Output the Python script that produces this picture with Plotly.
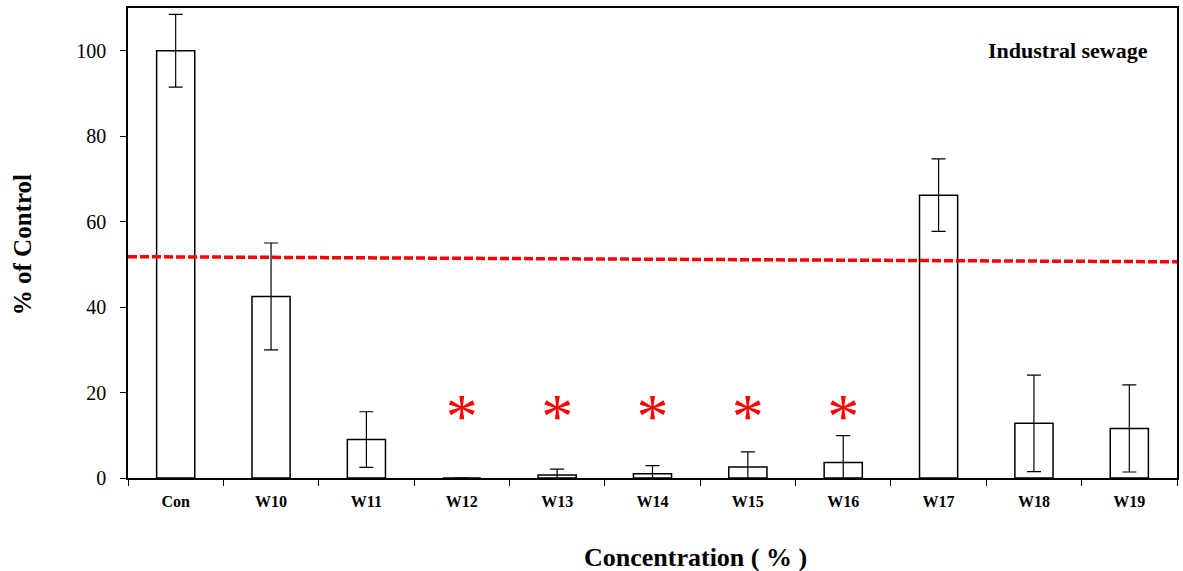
import plotly.graph_objects as go

# Samples and mean response (% of control) with standard deviations
categories = ["Con", "W10", "W11", "W12", "W13", "W14", "W15", "W16", "W17", "W18", "W19"]
values = [100, 42.5, 9.0, 0, 0.7, 1.0, 2.6, 3.6, 66.2, 12.8, 11.6]
errors = [8.5, 12.5, 6.5, 0, 1.4, 1.9, 3.5, 6.3, 8.5, 11.3, 10.2]

# Samples flagged as significant
flagged = ["W12", "W13", "W14", "W15", "W16"]
flag_level = 13.1

# 50 % reference line (start / end level)
ref_start, ref_end = 51.8, 50.6

serif = "Liberation Serif, Times New Roman, serif"

fig = go.Figure()
fig.add_trace(go.Bar(
    x=categories, y=values, width=0.4,
    marker=dict(color="white", line=dict(color="black", width=1.5)),
    error_y=dict(type="data", array=errors, visible=True,
                 color="black", thickness=1.2, width=7),
    showlegend=False,
))
fig.add_trace(go.Scatter(
    x=flagged, y=[flag_level] * len(flagged), mode="text",
    text=["*"] * len(flagged),
    textfont=dict(family=serif, size=64, color="red"),
    textposition="middle center",
    showlegend=False,
))

fig.add_shape(type="line", xref="paper", yref="y", x0=0, x1=1,
              y0=ref_start, y1=ref_end,
              line=dict(color="red", width=3.5, dash="9px,3px"))

fig.add_annotation(text="<b>Industral sewage</b>", xref="paper", yref="paper",
                   x=(1070 - 128) / 1051, y=(478 - 51) / 470,
                   xanchor="center", yanchor="middle", showarrow=False,
                   font=dict(family=serif, size=22, color="black"))
fig.add_annotation(text="<b>Concentration ( % )</b>", xref="paper", yref="paper",
                   x=(697 - 128) / 1051, y=-(557 - 478) / 470,
                   xanchor="center", yanchor="middle", showarrow=False,
                   font=dict(family=serif, size=26, color="black"))
fig.add_annotation(text="<b>% of Control</b>", xref="paper", yref="paper",
                   x=(22 - 128) / 1051, y=(478 - 245) / 470, textangle=-90,
                   xanchor="center", yanchor="middle", showarrow=False,
                   font=dict(family=serif, size=25, color="black"))

fig.update_layout(
    width=1183, height=571,
    margin=dict(l=128, r=4, t=8, b=93),
    plot_bgcolor="white", paper_bgcolor="white",
    bargap=0.6,
)
fig.update_xaxes(
    type="category", showline=True, linecolor="black", linewidth=1.5,
    mirror=True, ticks="outside", tickson="boundaries", ticklen=6,
    tickcolor="black", showgrid=False, ticklabelstandoff=8,
    tickfont=dict(family=serif, size=16, color="black", weight="bold"),
)
fig.update_yaxes(
    range=[0, 110], tickvals=[0, 20, 40, 60, 80, 100],
    showline=True, linecolor="black", linewidth=1.5, mirror=True,
    ticks="outside", ticklen=6, tickcolor="black", showgrid=False,
    zeroline=False, ticklabelstandoff=10,
    tickfont=dict(family=serif, size=20, color="black"),
)

fig.write_html("out.html")
